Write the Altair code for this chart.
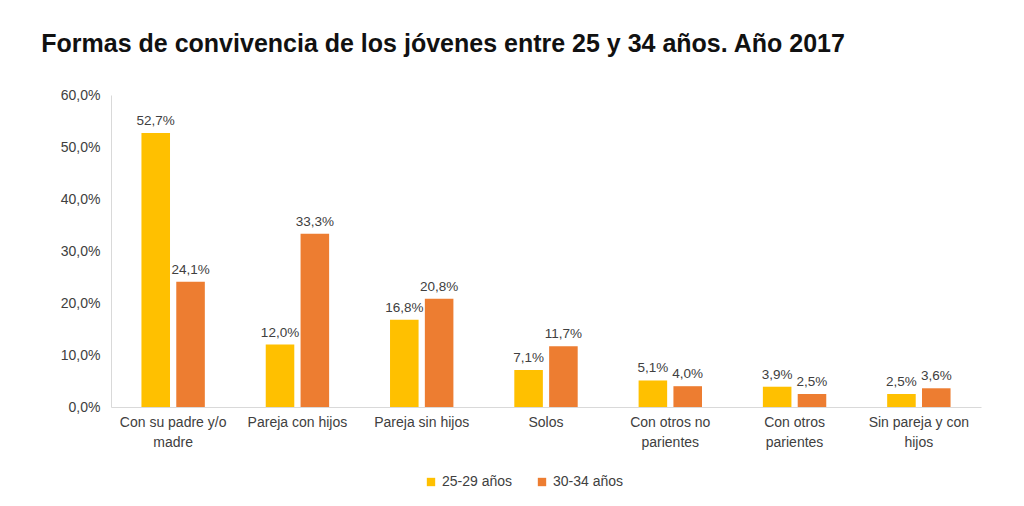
import altair as alt
import pandas as pd

categories = ["Con su padre y/o|madre", "Pareja con hijos", "Pareja sin hijos", "Solos",
              "Con otros no|parientes", "Con otros|parientes", "Sin pareja y con|hijos"]
series = ["25-29 años", "30-34 años"]
values_25_29 = [52.7, 12.0, 16.8, 7.1, 5.1, 3.9, 2.5]
values_30_34 = [24.1, 33.3, 20.8, 11.7, 4.0, 2.5, 3.6]
colors = ["#FFC000", "#ED7D31"]

rows = []
for c, a, b in zip(categories, values_25_29, values_30_34):
    rows.append({"cat": c, "serie": series[0], "val": a})
    rows.append({"cat": c, "serie": series[1], "val": b})
df = pd.DataFrame(rows)
df["lab"] = df["val"].map(lambda v: f"{v:.1f}".replace(".", ",") + "%")

x = alt.X("cat:N", sort=categories, title=None,
          scale=alt.Scale(paddingInner=0.49, paddingOuter=0.245),
          axis=alt.Axis(labelAngle=0, labelExpr="split(datum.label, '|')", ticks=False,
                        domainColor="#d9d9d9", labelFontSize=14, labelColor="#404040",
                        labelPadding=8, labelLimit=200, labelOverlap=False, labelLineHeight=20,
                        labelFont="Liberation Sans"))
xo = alt.XOffset("serie:N", sort=series, scale=alt.Scale(paddingInner=0.18))
y = alt.Y("val:Q", title=None, scale=alt.Scale(domain=[0, 60]),
          axis=alt.Axis(values=[0, 10, 20, 30, 40, 50, 60], grid=False, ticks=False,
                        domainColor="#d9d9d9", labelFontSize=14, labelColor="#404040",
                        labelPadding=11, labelFont="Liberation Sans",
                        labelExpr="replace(format(datum.value, '.1f'), '.', ',') + '%'"))

base = alt.Chart(df)
bars = base.mark_bar().encode(
    x=x, xOffset=xo, y=y,
    color=alt.Color("serie:N", sort=series, scale=alt.Scale(domain=series, range=colors),
                    legend=alt.Legend(title=None, orient="none", legendX=313, legendY=380,
                                      direction="horizontal", symbolType="square", symbolSize=70,
                                      labelFontSize=14, labelColor="#404040", columnPadding=22,
                                      labelFont="Liberation Sans")),
)
text = base.mark_text(dy=-12, fontSize=13.5, color="#404040", font="Liberation Sans").encode(
    x=x, xOffset=xo, y=y, text="lab:N")

chart = (bars + text).properties(
    width=870, height=312,
    title=alt.TitleParams("Formas de convivencia de los jóvenes entre 25 y 34 años. Año 2017",
                          anchor="start", frame="bounds", fontSize=25, font="Liberation Sans",
                          fontWeight="bold", color="#111111", offset=31, dx=-19),
    padding={"left": 33, "top": 24, "right": 10, "bottom": 10},
).configure_view(stroke=None)

chart.save("out.html", embed_options={"renderer": "svg", "actions": False})
